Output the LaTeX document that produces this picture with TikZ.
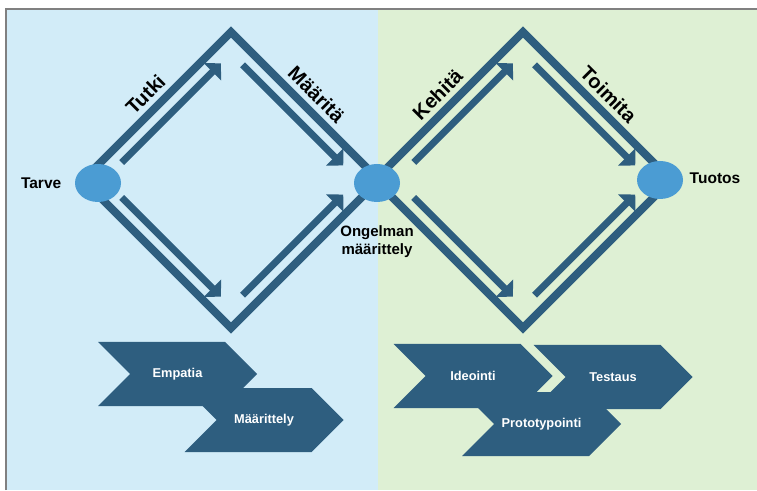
\documentclass[tikz,border=0pt]{standalone}
\usepackage{fontspec}
\setmainfont{Liberation Sans}
\usetikzlibrary{arrows.meta,calc,positioning,shapes.geometric,shapes.symbols}

\definecolor{stepblue}{RGB}{46,94,127}
\definecolor{hubblue}{RGB}{75,156,211}
\definecolor{bgblue}{RGB}{210,236,248}
\definecolor{bggreen}{RGB}{222,240,212}
\definecolor{framegray}{RGB}{128,128,128}

\tikzset{
    phase/.style={draw=stepblue, line width=8pt},
    flow/.style={draw=stepblue, line width=7pt, -{Triangle[width=24pt,length=12pt]}},
    hub/.style={ellipse, fill=hubblue, minimum width=46pt, minimum height=38pt, inner sep=0pt},
    verb/.style={font=\bfseries\fontsize{20}{22}\selectfont, sloped, midway, above=4pt, inner sep=1pt},
    side/.style={font=\bfseries\fontsize{15.5}{18}\selectfont},
    chevron/.style={signal, signal from=west, signal to=east, fill=stepblue, text=white,
        minimum width=159pt, minimum height=64pt, inner sep=0pt,
        font=\bfseries\fontsize{12.8}{15}\selectfont},
}

\begin{document}
\begin{tikzpicture}[x=1pt, y=1pt]
        \useasboundingbox (0,0) rectangle (757,490);

        % background halves and frame
        \fill[bgblue] (6,0) rectangle (377.5,481);
        \fill[bggreen] (377.5,0) rectangle (757,481);
        \draw[framegray, line width=2.2pt] (6,0) -- (6,481) -- (757,481);

        % diamond corners
        \coordinate (lL) at (83,310);
        \coordinate (lT) at (231,458);
        \coordinate (lR) at (379,310);
        \coordinate (lB) at (231,162);
        \coordinate (rL) at (375,310);
        \coordinate (rT) at (523,458);
        \coordinate (rR) at (671,310);
        \coordinate (rB) at (523,162);

        % outer diamonds with phase labels
        \draw[phase] (lL) -- node[verb] {Tutki} (lT) -- node[verb] {Määritä} (lR) -- (lB) -- cycle;
        \draw[phase] (rL) -- node[verb] {Kehitä} (rT) -- node[verb] {Toimita} (rR) -- (rB) -- cycle;

        % inner arrows, left diamond
        \draw[flow] ($(lL)!.19!(lT)!15pt!-90:(lT)$) -- ($(lL)!.86!(lT)!15pt!-90:(lT)$);
        \draw[flow] ($(lT)!.15!(lR)!15pt!-90:(lR)$) -- ($(lT)!.83!(lR)!15pt!-90:(lR)$);
        \draw[flow] ($(lL)!.19!(lB)!15pt!90:(lB)$) -- ($(lL)!.86!(lB)!15pt!90:(lB)$);
        \draw[flow] ($(lB)!.15!(lR)!15pt!90:(lR)$) -- ($(lB)!.83!(lR)!15pt!90:(lR)$);

        % inner arrows, right diamond
        \draw[flow] ($(rL)!.19!(rT)!15pt!-90:(rT)$) -- ($(rL)!.86!(rT)!15pt!-90:(rT)$);
        \draw[flow] ($(rT)!.15!(rR)!15pt!-90:(rR)$) -- ($(rT)!.83!(rR)!15pt!-90:(rR)$);
        \draw[flow] ($(rL)!.19!(rB)!15pt!90:(rB)$) -- ($(rL)!.86!(rB)!15pt!90:(rB)$);
        \draw[flow] ($(rB)!.15!(rR)!15pt!90:(rR)$) -- ($(rB)!.83!(rR)!15pt!90:(rR)$);

        % hubs
        \node[hub] (tarve) at (98,307) {};
        \node[hub] (ongelma) at (377,307) {};
        \node[hub] (tuotos) at (660,310) {};

        % hub labels
        \node[side, left=10pt of tarve] (tarvetxt) {Tarve};
        \node[side, right=3pt of tuotos, yshift=2pt] (tuotostxt) {Tuotos};
        \node[side, align=center, below=20pt of ongelma, font=\bfseries\fontsize{15}{18}\selectfont] (ongelmatxt) {Ongelman\\määrittely};

        % method chevrons
        \node[chevron] (empatia) at (177.5,116) {Empatia};
        \node[chevron] (maarittely) at (264,70) {Määrittely};
        \node[chevron] (prototypointi) at (541.5,66) {Prototypointi};
        \node[chevron] (ideointi) at (473,114) {Ideointi};
        \node[chevron] (testaus) at (613,113) {Testaus};
\end{tikzpicture}
\end{document}
